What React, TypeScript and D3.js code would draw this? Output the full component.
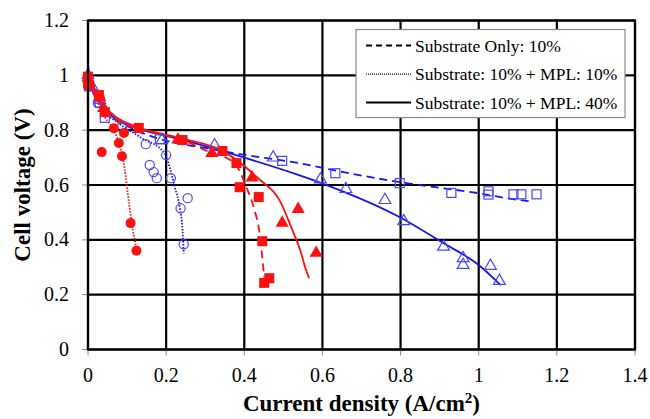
import * as d3 from "d3";

type Pt = [number, number];

const WIDTH = 650;
const HEIGHT = 419;
const MARGIN = { top: 20.5, right: 15, bottom: 69.5, left: 88 };
const INNER_WIDTH = WIDTH - MARGIN.left - MARGIN.right;
const INNER_HEIGHT = HEIGHT - MARGIN.top - MARGIN.bottom;

const xTicks = [0, 0.2, 0.4, 0.6, 0.8, 1, 1.2, 1.4];
const yTicks = [0, 0.2, 0.4, 0.6, 0.8, 1, 1.2];

const legendLabels = ["Substrate Only: 10%", "Substrate: 10% + MPL: 10%", "Substrate: 10% + MPL: 40%"];

// blue series
const blueSquares: Pt[] = [
  [0, 0.985], [0.003, 0.96], [0.03, 0.9], [0.043, 0.845], [0.184, 0.767], [0.497, 0.688], [0.633, 0.643],
  [0.798, 0.607], [0.93, 0.571], [1.025, 0.577], [1.025, 0.565], [1.089, 0.566], [1.109, 0.566], [1.148, 0.566],
];
const blueDashedFit: Pt[] = [
  [0, 1.0], [0.01, 0.95], [0.03, 0.9], [0.06, 0.85], [0.1, 0.815], [0.19, 0.765], [0.3, 0.735], [0.4, 0.71],
  [0.54, 0.68], [0.65, 0.648], [0.8, 0.61], [0.9, 0.59], [1.0, 0.57], [1.07, 0.552], [1.133, 0.54],
];
const blueCircles: Pt[] = [
  [0, 0.99], [0.005, 0.96], [0.025, 0.9], [0.087, 0.81], [0.148, 0.749], [0.2, 0.709], [0.158, 0.673],
  [0.168, 0.647], [0.176, 0.625], [0.212, 0.625], [0.255, 0.552], [0.237, 0.515], [0.245, 0.384],
];
const blueDottedFit: Pt[] = [
  [0, 1.0], [0.01, 0.95], [0.036, 0.88], [0.079, 0.825], [0.138, 0.771], [0.196, 0.716], [0.21, 0.66],
  [0.222, 0.593], [0.235, 0.516], [0.242, 0.436], [0.245, 0.35],
];
const blueTriangles: Pt[] = [
  [0, 1.0], [0.01, 0.96], [0.03, 0.91], [0.189, 0.763], [0.324, 0.745], [0.474, 0.7], [0.595, 0.62],
  [0.66, 0.585], [0.76, 0.545], [0.808, 0.468], [0.91, 0.375], [0.96, 0.333], [0.96, 0.308], [1.03, 0.305],
  [1.053, 0.25],
];
const blueSolidFit: Pt[] = [
  [0, 1.04], [0.005, 0.98], [0.031, 0.91], [0.064, 0.848], [0.125, 0.808], [0.235, 0.767], [0.362, 0.716],
  [0.54, 0.636], [0.597, 0.607], [0.796, 0.484], [0.905, 0.392], [1.0, 0.308], [1.056, 0.235],
];

// red series
const redSquares: Pt[] = [
  [0, 0.995], [0, 0.97], [0.028, 0.928], [0.043, 0.866], [0.13, 0.808], [0.242, 0.764], [0.344, 0.724],
  [0.38, 0.68], [0.388, 0.592], [0.437, 0.556], [0.446, 0.395], [0.451, 0.243], [0.464, 0.26],
];
const redDashedFit: Pt[] = [
  [0, 1.0], [0.01, 0.95], [0.03, 0.9], [0.07, 0.84], [0.13, 0.805], [0.24, 0.765], [0.311, 0.72],
  [0.375, 0.68], [0.405, 0.593], [0.426, 0.509], [0.439, 0.425], [0.444, 0.363], [0.451, 0.264],
];
const redCircles: Pt[] = [
  [0, 0.99], [0.003, 0.97], [0.03, 0.92], [0.066, 0.807], [0.092, 0.79], [0.079, 0.753], [0.035, 0.72],
  [0.087, 0.705], [0.109, 0.461], [0.124, 0.36],
];
const redDottedFit: Pt[] = [
  [0, 1.0], [0.02, 0.92], [0.043, 0.848], [0.069, 0.793], [0.082, 0.739], [0.089, 0.702], [0.105, 0.534],
  [0.115, 0.436], [0.125, 0.36],
];
const redTriangles: Pt[] = [
  [0, 0.99], [0.005, 0.96], [0.03, 0.92], [0.04, 0.88], [0.23, 0.765], [0.317, 0.716], [0.42, 0.627],
  [0.497, 0.462], [0.538, 0.512], [0.584, 0.352],
];
const redSolidFit: Pt[] = [
  [0, 1.03], [0.005, 0.98], [0.03, 0.91], [0.07, 0.85], [0.13, 0.81], [0.24, 0.77], [0.35, 0.72],
  [0.439, 0.62], [0.49, 0.545], [0.523, 0.436], [0.543, 0.363], [0.558, 0.29], [0.566, 0.26],
];

const BLUE = "#1515ee";
const BLUE_MARK = "#4848ff";
const RED = "#ff1010";
const FONT = '"Liberation Serif"';

const DASHES = ["8,5", "1.5,1.5", ""];

export default function App() {
  const x = d3.scaleLinear().domain([0, 1.4]).range([0, INNER_WIDTH]);
  const y = d3.scaleLinear().domain([0, 1.2]).range([INNER_HEIGHT, 0]);
  const line = d3.line<Pt>().x((d) => x(d[0])).y((d) => y(d[1])).curve(d3.curveMonotoneX);
  const tri = d3.symbol().type(d3.symbolTriangle);

  const fits = [
    { data: blueDashedFit, color: BLUE, dash: DASHES[0] },
    { data: blueDottedFit, color: BLUE, dash: DASHES[1] },
    { data: blueSolidFit, color: BLUE, dash: DASHES[2] },
    { data: redDashedFit, color: RED, dash: DASHES[0] },
    { data: redDottedFit, color: RED, dash: DASHES[1] },
    { data: redSolidFit, color: RED, dash: DASHES[2] },
  ];

  return (
    <svg width={WIDTH} height={HEIGHT} style={{ position: "absolute", left: 0, top: 0, background: "#fff" }}>
      <g transform={`translate(${MARGIN.left} ${MARGIN.top})`}>
        {yTicks.map((t) => (
          <g key={`y${t}`}>
            <line x1={-6} x2={0} y1={y(t)} y2={y(t)} stroke="#888" strokeWidth="1" />
            <line x1={0} x2={INNER_WIDTH} y1={y(t)} y2={y(t)} stroke="#000" strokeWidth="2.2" />
            <text x={-19} y={y(t) + 6.5} textAnchor="end" style={{ fontFamily: FONT }} fontSize="20" fill="#000">
              {d3.format("~g")(t)}
            </text>
          </g>
        ))}
        {xTicks.map((t) => (
          <g key={`x${t}`}>
            <line x1={x(t)} x2={x(t)} y1={INNER_HEIGHT} y2={INNER_HEIGHT + 6} stroke="#888" strokeWidth="1" />
            <line x1={x(t)} x2={x(t)} y1={0} y2={INNER_HEIGHT} stroke="#000" strokeWidth="2.2" />
            <text x={x(t)} y={INNER_HEIGHT + 32} textAnchor="middle" style={{ fontFamily: FONT }} fontSize="20" fill="#000">
              {d3.format("~g")(t)}
            </text>
          </g>
        ))}

        {fits.map((f, i) => (
          <path
            key={`fit${i}`}
            d={line(f.data) ?? undefined}
            fill="none"
            stroke={f.color}
            strokeWidth="1.8"
            strokeDasharray={f.dash || undefined}
          />
        ))}

        {blueSquares.map((d, i) => (
          <rect key={`bs${i}`} x={x(d[0]) - 4.5} y={y(d[1]) - 4.5} width="9" height="9" fill="none" stroke={BLUE_MARK} strokeWidth="1.2" />
        ))}
        {blueCircles.map((d, i) => (
          <circle key={`bc${i}`} cx={x(d[0])} cy={y(d[1])} r="4.6" fill="none" stroke={BLUE_MARK} strokeWidth="1.2" />
        ))}
        {blueTriangles.map((d, i) => (
          <path key={`bt${i}`} d={tri.size(60)() ?? undefined} transform={`translate(${x(d[0])} ${y(d[1])})`} fill="none" stroke={BLUE_MARK} strokeWidth="1.2" />
        ))}
        {redSquares.map((d, i) => (
          <rect key={`rs${i}`} x={x(d[0]) - 5} y={y(d[1]) - 5} width="10" height="10" fill={RED} />
        ))}
        {redCircles.map((d, i) => (
          <circle key={`rc${i}`} cx={x(d[0])} cy={y(d[1])} r="5" fill={RED} />
        ))}
        {redTriangles.map((d, i) => (
          <path key={`rt${i}`} d={tri.size(75)() ?? undefined} transform={`translate(${x(d[0])} ${y(d[1])})`} fill={RED} />
        ))}

        <rect x={0} y={0} width={INNER_WIDTH} height={INNER_HEIGHT} fill="none" stroke="#000" strokeWidth="2.2" />

        <g transform={`translate(${x(0.686)} ${y(1.167)})`}>
          <rect x={0} y={0} width={269} height={88} fill="#fff" stroke="#888" strokeWidth="1.2" />
          {legendLabels.map((label, i) => (
            <g key={label} transform={`translate(0 ${16 + i * 28.5})`}>
              <line x1={10} x2={55} y1={0} y2={0} stroke="#000" strokeWidth={i === 1 ? 1.2 : 2} strokeDasharray={i === 0 ? "6,4" : i === 1 ? "1,1" : undefined} />
              <text x={59} y={6} style={{ fontFamily: FONT }} fontSize="17.5" fill="#000">
                {label}
              </text>
            </g>
          ))}
        </g>
      </g>

      <text x={MARGIN.left + INNER_WIDTH / 2} y={411} textAnchor="middle" style={{ fontFamily: FONT }} fontSize="23" fontWeight="bold" fill="#000">
        Current density (A/cm<tspan dy="-8" fontSize="15">2</tspan><tspan dy="8">)</tspan>
      </text>
      <text
        transform={`translate(30 ${MARGIN.top + INNER_HEIGHT / 2}) rotate(-90)`}
        textAnchor="middle"
        style={{ fontFamily: FONT }}
        fontSize="23"
        fontWeight="bold"
        fill="#000"
      >
        Cell voltage (V)
      </text>
    </svg>
  );
}
